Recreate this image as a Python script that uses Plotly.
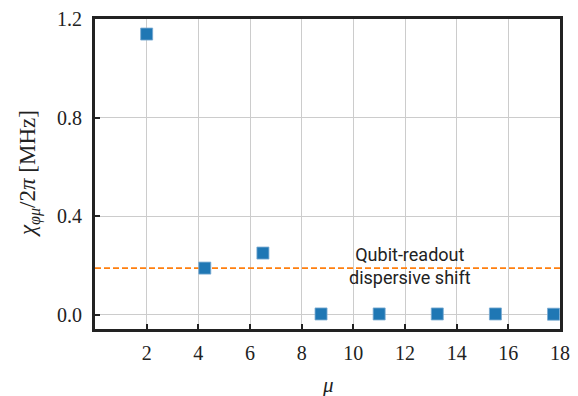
import plotly.graph_objects as go

# Dispersive couplings chi_{phi mu}/2pi versus mode index mu
mu = [2.0, 4.25, 6.5, 8.75, 11.0, 13.25, 15.5, 17.75]
chi = [1.139, 0.19, 0.251, 0.004, 0.004, 0.004, 0.004, 0.003]

readout_shift = 0.19
x_ticks = [2, 4, 6, 8, 10, 12, 14, 16, 18]
y_ticks = [0.0, 0.4, 0.8, 1.2]
y_tick_text = ["0.0", "0.4", "0.8", "1.2"]

serif = "Liberation Serif, DejaVu Serif, serif"
frame = "#222222"

fig = go.Figure()

fig.add_trace(go.Scatter(
    x=[0, 18], y=[readout_shift, readout_shift], mode="lines",
    line=dict(color="#ff7f0e", width=1.6, dash="6px,3px"),
    showlegend=False, hoverinfo="skip",
))

fig.add_trace(go.Scatter(
    x=mu, y=chi, mode="markers",
    marker=dict(symbol="square", size=12, color="#1f77b4",
                line=dict(color="rgba(120,170,210,0.8)", width=1)),
    showlegend=False, cliponaxis=True,
))

fig.add_annotation(
    x=12.2, y=0.2, xref="x", yref="y",
    text="Qubit-readout<br>dispersive shift", showarrow=False,
    font=dict(family="Roboto", size=18, color="#222222"),
    align="center",
)

# axis titles placed as annotations so the margins stay fixed
fig.add_annotation(
    x=0.5, y=0, xref="paper", yref="paper", yshift=-56,
    text="<i>μ</i>", showarrow=False, yanchor="middle",
    font=dict(family=serif, size=21, color="#222222"),
)
fig.add_annotation(
    x=0, y=0.5, xref="paper", yref="paper", xshift=-66,
    text="<i>χ</i><sub><i>φμ</i></sub>/2<i>π</i> [MHz]", showarrow=False,
    textangle=-90, xanchor="center",
    font=dict(family=serif, size=23, color="#222222"),
)

fig.update_layout(
    width=578, height=396,
    margin=dict(l=95, r=18, t=19, b=67),
    paper_bgcolor="white", plot_bgcolor="white",
    font=dict(family=serif, size=20, color="#222222"),
)

fig.update_xaxes(
    range=[0, 18], tickvals=x_ticks, ticktext=[str(t) for t in x_ticks],
    showgrid=True, gridcolor="#cccccc", gridwidth=1,
    showline=True, linecolor=frame, linewidth=3, mirror=True,
    ticks="inside", ticklen=5, tickwidth=2, tickcolor=frame,
    zeroline=False, ticklabelstandoff=4, automargin=False,
    tickfont=dict(family=serif, size=20),
)

fig.update_yaxes(
    range=[-0.057, 1.2], tickvals=y_ticks, ticktext=y_tick_text,
    showgrid=True, gridcolor="#cccccc", gridwidth=1,
    showline=True, linecolor=frame, linewidth=3, mirror=True,
    ticks="inside", ticklen=5, tickwidth=2, tickcolor=frame,
    zeroline=False, ticklabelstandoff=6, automargin=False,
    tickfont=dict(family=serif, size=20),
)

fig.write_html("out.html")
